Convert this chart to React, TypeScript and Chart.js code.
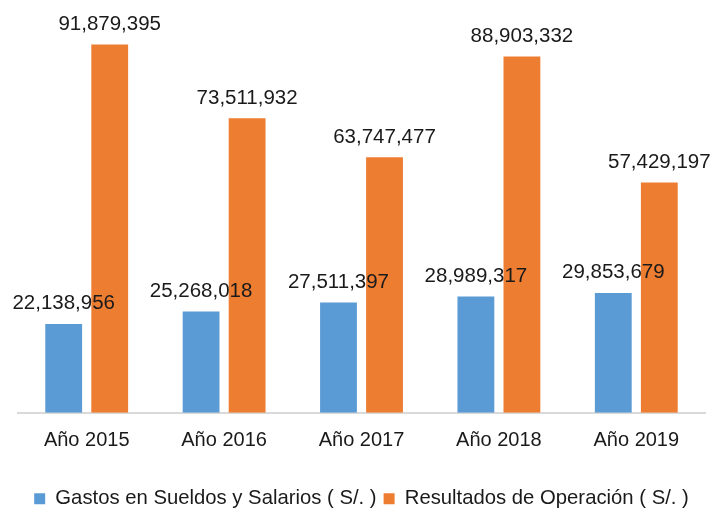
import React, { useEffect, useRef } from "react";
import { Chart, registerables } from "chart.js";

Chart.register(...registerables);

const categories = ["Año 2015", "Año 2016", "Año 2017", "Año 2018", "Año 2019"];
const gastosSueldos = [22138956, 25268018, 27511397, 28989317, 29853679];
const resultadosOperacion = [91879395, 73511932, 63747477, 88903332, 57429197];
const seriesNames = ["Gastos en Sueldos y Salarios ( S/. )", "Resultados de Operación ( S/. )"];

const FONT = '"Liberation Sans", Arial, sans-serif';
const TEXT = "#1a1a1a";

const valueLabels = {
  id: "valueLabels",
  afterDatasetsDraw(chart: any) {
    const ctx = chart.ctx;
    ctx.save();
    ctx.font = `20.5px ${FONT}`;
    ctx.fillStyle = TEXT;
    ctx.textAlign = "center";
    ctx.textBaseline = "bottom";
    chart.data.datasets.forEach((ds: any, di: number) => {
      const meta = chart.getDatasetMeta(di);
      meta.data.forEach((el: any, i: number) => {
        const v = ds.data[i] as number;
        ctx.fillText(v.toLocaleString("en-US"), el.x, el.y - 10);
      });
    });
    ctx.restore();
  },
};

export default function App() {
  const ref = useRef<HTMLCanvasElement>(null);
  useEffect(() => {
    if (!ref.current) return;
    const chart = new Chart(ref.current, {
      type: "bar",
      data: {
        labels: categories,
        datasets: [
          {
            label: seriesNames[0],
            data: gastosSueldos,
            backgroundColor: "#5B9BD5",
            barPercentage: 0.8,
            categoryPercentage: 0.67,
          },
          {
            label: seriesNames[1],
            data: resultadosOperacion,
            backgroundColor: "#ED7D31",
            barPercentage: 0.8,
            categoryPercentage: 0.67,
          },
        ],
      },
      options: {
        animation: false,
        responsive: false,
        maintainAspectRatio: false,
        layout: { padding: { top: 12, left: 18, right: 5, bottom: -7 } },
        scales: {
          x: {
            grid: { display: false, drawTicks: false },
            border: { display: true, color: "#d9d9d9", width: 2 },
            ticks: {
              color: TEXT,
              padding: 22,
              font: { family: FONT, size: 20, lineHeight: 0.6 },
            },
          },
          y: {
            display: false,
            min: 0,
            max: 100000000,
          },
        },
        plugins: {
          tooltip: { enabled: false },
          legend: {
            position: "bottom",
            title: {
              display: true,
              text: " ",
              font: { size: 10, lineHeight: 1.2 },
              padding: { top: 1, bottom: 0 },
            },
            labels: {
              color: TEXT,
              boxWidth: 11,
              boxHeight: 11,
              padding: 7,
              font: { family: FONT, size: 20.3 },
            },
          },
        },
      },
      plugins: [valueLabels],
    });
    return () => chart.destroy();
  }, []);
  return (
    <div style={{ position: "absolute", left: 0, top: 0, width: 710, height: 512, background: "#fff" }}>
      <canvas ref={ref} width={710} height={512} style={{ width: 710, height: 512 }} />
    </div>
  );
}
